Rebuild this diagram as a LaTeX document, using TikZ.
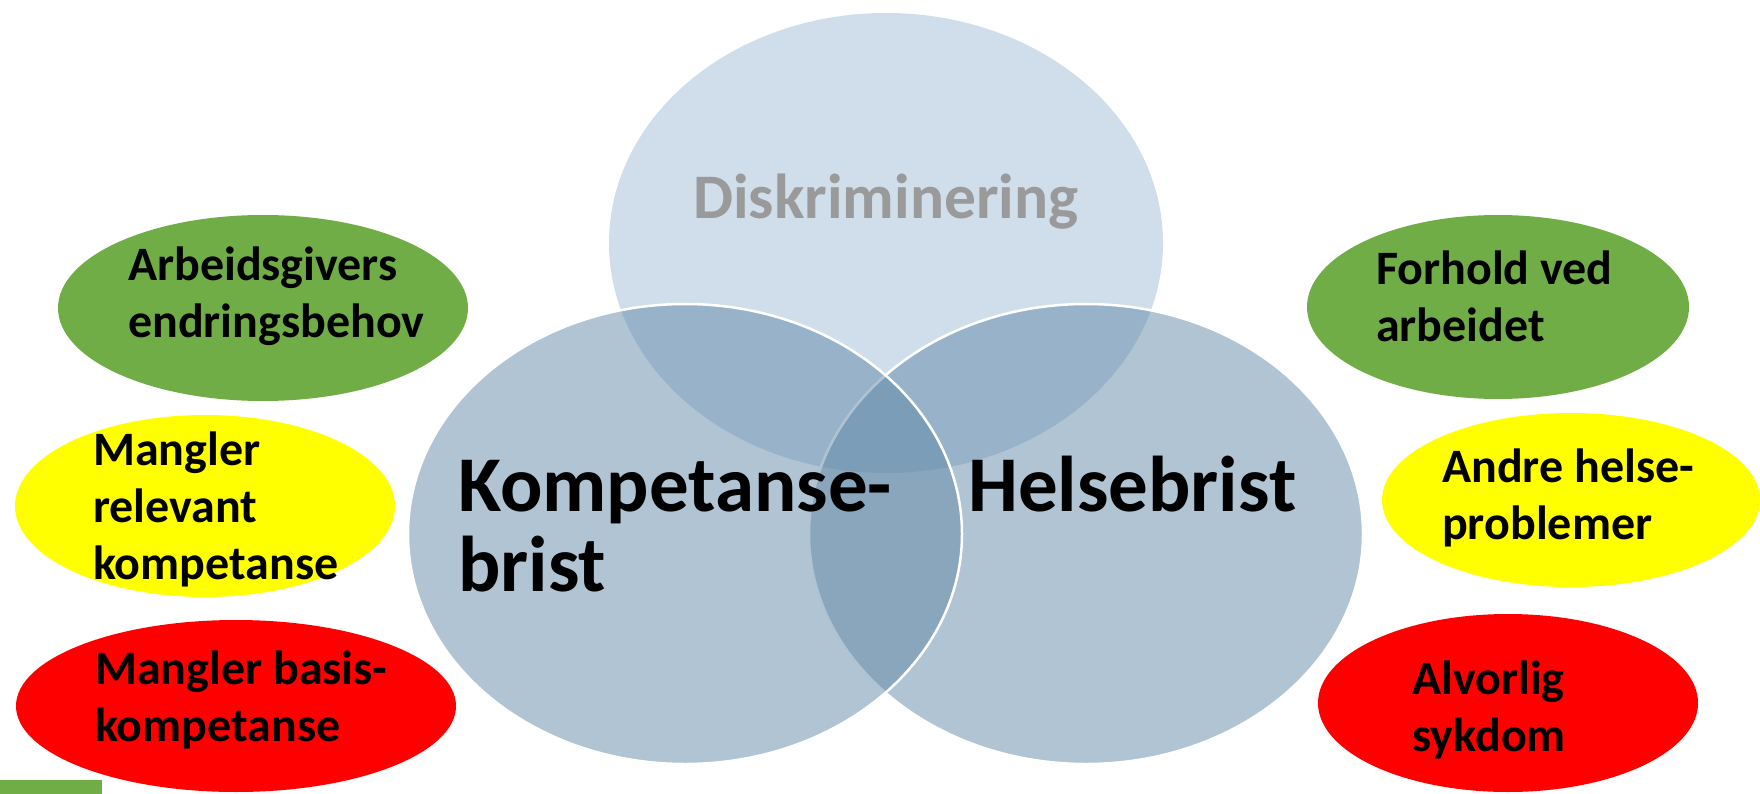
\documentclass[tikz,border=0pt]{standalone}
\usepackage{fontspec}
\setmainfont{Carlito}
\usetikzlibrary{shapes.geometric}
\definecolor{topfill}{RGB}{208,222,236}
\definecolor{vennblue}{RGB}{98,137,167}
\definecolor{pgreen}{RGB}{112,173,71}
\definecolor{pyellow}{RGB}{255,255,0}
\definecolor{pred}{RGB}{255,0,0}
\definecolor{diskgray}{RGB}{154,154,154}
\begin{document}
\begin{tikzpicture}[x=1pt,y=-1pt,
  blob/.style={ellipse, inner sep=0pt, outer sep=0pt, draw=none},
  venn/.style={ellipse, inner sep=0pt, minimum width=554pt, minimum height=460pt,
    fill=vennblue, fill opacity=0.5, draw=white, draw opacity=1, line width=2.5pt},
  lbl/.style={anchor=base west, inner sep=0pt, text=black,
    font=\bfseries\fontsize{48}{57}\selectfont},
  big/.style={anchor=base west, inner sep=0pt, text=black,
    font=\bfseries\fontsize{79}{80}\selectfont}]
\useasboundingbox (0,0) rectangle (1760,794);
% Venn circles
\node[ellipse, inner sep=0pt, minimum width=554pt, minimum height=460pt, fill=topfill] (disk) at (886,243) {};
\node[venn] (helse) at (1086,534) {};
\node[venn] (komp) at (685,534) {};
% coloured ellipses
\node[blob, fill=pgreen, minimum width=410pt, minimum height=186pt] (gl) at (263,308) {};
\node[blob, fill=pyellow, minimum width=380pt, minimum height=182pt] (yl) at (205,506) {};
\node[blob, fill=pred, minimum width=440pt, minimum height=172pt] (rl) at (236,706) {};
\node[blob, fill=pgreen, minimum width=382pt, minimum height=184pt] (gr) at (1498,307) {};
\node[blob, fill=pyellow, minimum width=378pt, minimum height=174pt] (yr) at (1571,500) {};
\node[blob, fill=pred, minimum width=380pt, minimum height=178pt] (rr) at (1508,703) {};
\fill[pgreen] (0,780) rectangle (102,794);
% texts
\node[anchor=base west, inner sep=0pt, text=diskgray, font=\bfseries\fontsize{63.5}{70}\selectfont] (tdisk) at (693,219) {Diskriminering};
\node[big] (tkomp) at (458,511) {\vtop{\hbox{Kompetanse-}\hbox{brist}}};
\node[big] (thelse) at (968,511) {Helsebrist};
\node[lbl] (tgl) at (128,280) {\vtop{\hbox{Arbeidsgivers}\hbox{endringsbehov}}};
\node[lbl] (tyl) at (93,465) {\vtop{\hbox{Mangler}\hbox{relevant}\hbox{kompetanse}}};
\node[lbl] (trl) at (95,684) {\vtop{\hbox{Mangler basis-}\hbox{kompetanse}}};
\node[lbl] (tgr) at (1376,284) {\vtop{\hbox{Forhold ved}\hbox{arbeidet}}};
\node[lbl] (tyr) at (1442,482) {\vtop{\hbox{Andre helse-}\hbox{problemer}}};
\node[lbl] (trr) at (1412,694) {\vtop{\hbox{Alvorlig}\hbox{sykdom}}};
\end{tikzpicture}
\end{document}
